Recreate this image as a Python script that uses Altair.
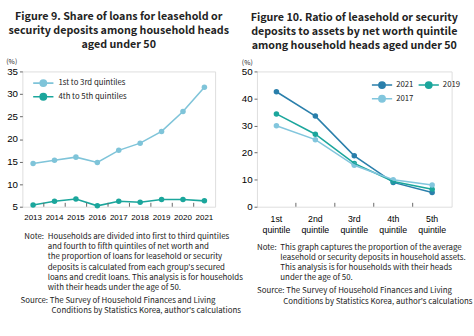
import altair as alt
import pandas as pd

# ---------------- data ----------------
years = ["2013", "2014", "2015", "2016", "2017", "2018", "2019", "2020", "2021"]
q1to3 = [14.6, 15.3, 16.0, 14.8, 17.5, 19.1, 21.7, 26.1, 31.5]
q4to5 = [5.4, 6.2, 6.7, 5.2, 6.2, 6.0, 6.6, 6.6, 6.3]
left_series = ["1st to 3rd quintiles", "4th to 5th quintiles"]

quintiles = ["1st quintile", "2nd quintile", "3rd quintile", "4th quintile", "5th quintile"]
r2021 = [42.5, 33.5, 18.8, 9.0, 5.3]
r2019 = [34.3, 26.8, 16.0, 9.3, 6.5]
r2017 = [29.9, 24.8, 15.3, 10.0, 8.0]
right_series = ["2021", "2019", "2017"]
right_legend_order = ["2021", "2017", "2019"]

title_left = ["Figure 9. Share of loans for leasehold or",
              "security deposits among household heads",
              "aged under 50"]
title_right = ["Figure 10. Ratio of leasehold or security",
               "deposits to assets by net worth quintile",
               "among household heads aged under 50"]
note_left = ["Households are divided into first to third quintiles",
             "and fourth to fifth quintiles of net worth and",
             "the proportion of loans for leasehold or security",
             "deposits is calculated from each group's secured",
             "loans and credit loans. This analysis is for households",
             "with their heads under the age of 50."]
note_right = ["This graph captures the proportion of the average",
              "leasehold or security deposits in household assets.",
              "This analysis is for households with their heads",
              "under the age of 50."]
source_lines = ["Source: The Survey of Household Finances and Living",
                "Conditions by Statistics Korea, author's calculations"]

FONT = "Noto Sans CJK KR, sans-serif"
TXT = "#222222"
SYM = "M-1.6,0H1.6M0.5,0A0.5,0.5,0,1,1,-0.5,0A0.5,0.5,0,1,1,0.5,0Z"
NFS = 8.1
NLH = 10.5

left_df = pd.DataFrame({
    "year": years * 2,
    "value": q1to3 + q4to5,
    "series": [left_series[0]] * len(years) + [left_series[1]] * len(years),
})
right_df = pd.DataFrame({
    "q": quintiles * 3,
    "value": r2021 + r2019 + r2017,
    "series": [right_series[0]] * 5 + [right_series[1]] * 5 + [right_series[2]] * 5,
})

LW, LH = 198, 139
RW, RH = 200, 139


def note_layers(note, note_x, indent_x, note_y, src_x, src_indent_x, src_y):
    one = alt.Data(values=[{"k": 0}])
    style = dict(font=FONT, fontSize=NFS, color=TXT, align="left", baseline="top", lineHeight=NLH)
    return [
        alt.Chart(one).mark_text(text="Note:", **style).encode(x=alt.value(note_x), y=alt.value(note_y)),
        alt.Chart(one).mark_text(text=note, **style).encode(x=alt.value(indent_x), y=alt.value(note_y)),
        alt.Chart(one).mark_text(text=source_lines[0], **style).encode(x=alt.value(src_x), y=alt.value(src_y)),
        alt.Chart(one).mark_text(text=source_lines[1], **style).encode(x=alt.value(src_indent_x), y=alt.value(src_y + NLH)),
    ]


def title(lines):
    return alt.TitleParams(text=lines, fontSize=11, fontWeight="bold", font=FONT, color=TXT,
                           anchor="middle", lineHeight=14.5, offset=8)


# ---------------- left chart ----------------
lcolor = alt.Color("series:N",
                   scale=alt.Scale(domain=left_series, range=["#7fc4d9", "#1ba69c"]),
                   legend=alt.Legend(title=None, orient="none", legendX=14, legendY=4.5,
                                     symbolType=SYM, symbolSize=169, symbolStrokeWidth=1.6,
                                     labelFont=FONT, labelFontSize=8, labelColor=TXT,
                                     rowPadding=-1, padding=0, labelOffset=8))
lx = alt.X("year:O", sort=years, scale=alt.Scale(type="band", paddingInner=0, paddingOuter=0),
           axis=alt.Axis(title=None, labelAngle=0, ticks=False, domain=False, labelPadding=7,
                         labelFontSize=8.2))
ly = alt.Y("value:Q", scale=alt.Scale(domain=[5, 35], nice=False, zero=False),
           axis=alt.Axis(values=[5, 10, 15, 20, 25, 30, 35], title="(%)", titleAngle=0,
                         titleX=-17, titleY=-10, titleAlign="left", titleBaseline="middle",
                         titleFontSize=7, titleFontWeight="normal", titleFont=FONT, titleColor=TXT,
                         grid=False, domain=False, tickSize=3, tickColor="#666", labelPadding=2))

lbase = alt.Chart(left_df).encode(x=lx, y=ly, color=lcolor)
l_line = lbase.mark_line(strokeWidth=1.6)
l_pts = lbase.mark_point(filled=True, size=32, opacity=1)
l_ticks = alt.Chart(pd.DataFrame({"year": years[1:]})).mark_rule(color="#666").encode(
    x=alt.X("year:O", sort=years, bandPosition=0), y=alt.value(LH - 4), y2=alt.value(LH))

left = alt.layer(l_pts, l_line, l_ticks,
                 *note_layers(note_left, 2, 26, 166, -2, 30, 232)).properties(
    width=LW, height=LH, title=title(title_left))

# ---------------- right chart ----------------
rcolor = alt.Color("series:N",
                   scale=alt.Scale(domain=right_series, range=["#2a7fab", "#1ba69c", "#82c6dd"]),
                   legend=alt.Legend(title=None, orient="none", legendX=121, legendY=6.5, columns=2,
                                     values=right_legend_order,
                                     symbolType=SYM, symbolSize=169, symbolStrokeWidth=1.6,
                                     labelFont=FONT, labelFontSize=8, labelColor=TXT,
                                     rowPadding=-5, columnPadding=1, padding=0, labelOffset=7))
rx = alt.X("q:O", sort=quintiles, scale=alt.Scale(type="band", paddingInner=0, paddingOuter=0),
           axis=alt.Axis(title=None, labelAngle=0, ticks=False, domain=False, labelPadding=8,
                         labelExpr="split(datum.label, ' ')", labelLineHeight=11, labelFontSize=9))
ry = alt.Y("value:Q", scale=alt.Scale(domain=[0, 50], nice=False),
           axis=alt.Axis(values=[0, 10, 20, 30, 40, 50], title="(%)", titleAngle=0,
                         titleX=-16, titleY=-9, titleAlign="left", titleBaseline="middle",
                         titleFontSize=7, titleFontWeight="normal", titleFont=FONT, titleColor=TXT,
                         grid=False, domain=False, tickSize=3, tickColor="#666", labelPadding=2))

rbase = alt.Chart(right_df).encode(x=rx, y=ry, color=rcolor)
r_line = rbase.mark_line(strokeWidth=1.6)
r_pts = rbase.mark_point(filled=True, size=32, opacity=1)
r_ticks = alt.Chart(pd.DataFrame({"q": quintiles[1:]})).mark_rule(color="#666").encode(
    x=alt.X("q:O", sort=quintiles, bandPosition=0), y=alt.value(RH - 4), y2=alt.value(RH))

right = alt.layer(r_pts, r_line, r_ticks,
                  *note_layers(note_right, 0, 24, 177, 0, 27, 222)).properties(
    width=RW, height=RH, title=title(title_right))

chart = alt.hconcat(left, right, spacing=43, bounds="flush").resolve_scale(
    color="independent").resolve_legend(color="independent").properties(
    padding={"left": 5, "top": 6, "right": 0, "bottom": 0}
).configure_view(stroke="#666", strokeWidth=1).configure_axis(
    labelFont=FONT, labelFontSize=9, labelColor="#333"
).configure(background="white")

chart.save("out.html", embed_options={"renderer": "svg", "actions": False})
